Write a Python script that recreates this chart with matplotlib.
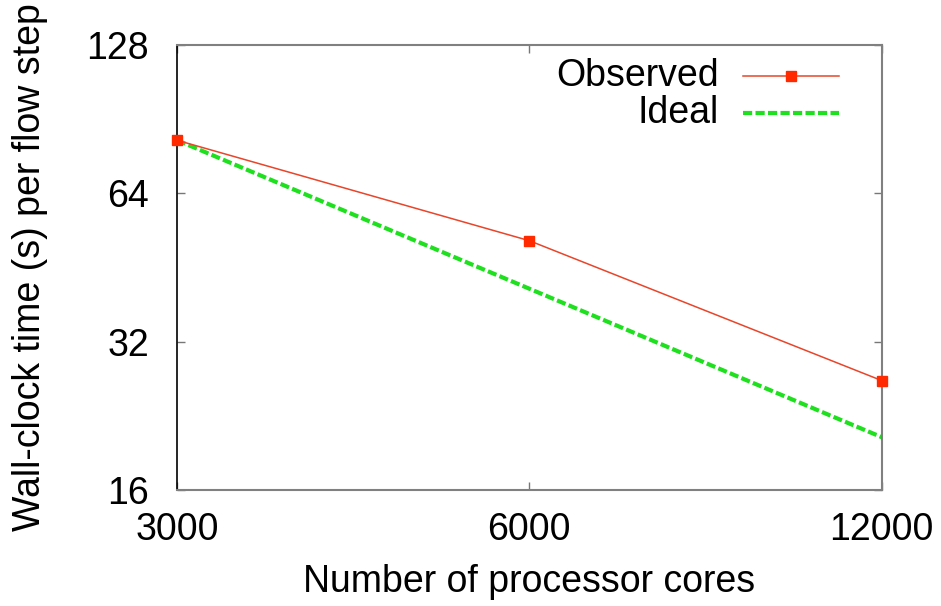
import matplotlib.pyplot as plt
from matplotlib.lines import Line2D

# strong scaling run: wall-clock per flow step vs core count
cores = [3000, 6000, 12000]
observed = [82.0, 51.3, 26.7]
ideal = [82.0, 41.0, 20.5]

yticks = [16, 32, 64, 128]
xticks = [3000, 6000, 12000]

plt.rcParams['font.family'] = ['Liberation Sans', 'DejaVu Sans']
fs = 27

fig = plt.figure(figsize=(9.41, 6.06), dpi=100)
ax = fig.add_axes([0.188, 0.191, 0.749, 0.735])

red = '#e8452a'
green = '#1ee01e'

ax.plot(cores, observed, color=red, lw=1.1, marker='s', ms=7,
        mfc='#ff2a00', mec='#ff2a00', clip_on=False, zorder=3)
ax.plot(cores, ideal, color=green, lw=3, ls=(0, (2.2, 0.8)), clip_on=False, zorder=2)

ax.set_xscale('log', base=2)
ax.set_yscale('log', base=2)
ax.set_xlim(3000, 12000)
ax.set_ylim(16, 128)
ax.set_xticks(xticks)
ax.set_xticklabels([str(v) for v in xticks])
ax.set_yticks(yticks)
ax.set_yticklabels([str(v) for v in yticks])
ax.minorticks_off()
ax.tick_params(direction='in', length=6, width=1, colors='#777777',
               top=True, right=True, labelsize=fs, labelcolor='black')
ax.tick_params(axis='x', pad=16)
ax.tick_params(axis='y', pad=20)

for s in ['top', 'right', 'bottom']:
    ax.spines[s].set_color('#808080')
    ax.spines[s].set_linewidth(1.5)
ax.spines['left'].set_color('black')
ax.spines['left'].set_linewidth(1.2)

ax.set_xlabel('Number of processor cores', fontsize=fs, labelpad=11)
ax.set_ylabel('Wall-clock time (s) per flow step', fontsize=fs, labelpad=28)

# key in the top right corner, labels right-aligned before the samples
tx, x0, x1 = 0.769, 0.803, 0.939
for yk, label, style in [(0.930, 'Observed', 'obs'), (0.847, 'Ideal', 'ideal')]:
    ax.text(tx, yk, label, transform=ax.transAxes, ha='right', va='center', fontsize=fs)
    if style == 'obs':
        ax.add_line(Line2D([x0, x1], [yk, yk], transform=ax.transAxes, color=red, lw=1.1))
        ax.add_line(Line2D([(x0 + x1) / 2], [yk], transform=ax.transAxes, marker='s', ms=7,
                           mfc='#ff2a00', mec='#ff2a00', ls='none'))
    else:
        ax.add_line(Line2D([x0, x1], [yk, yk], transform=ax.transAxes, color=green, lw=3,
                           ls=(0, (2.2, 0.8))))

fig.savefig('out.png', dpi=100)
